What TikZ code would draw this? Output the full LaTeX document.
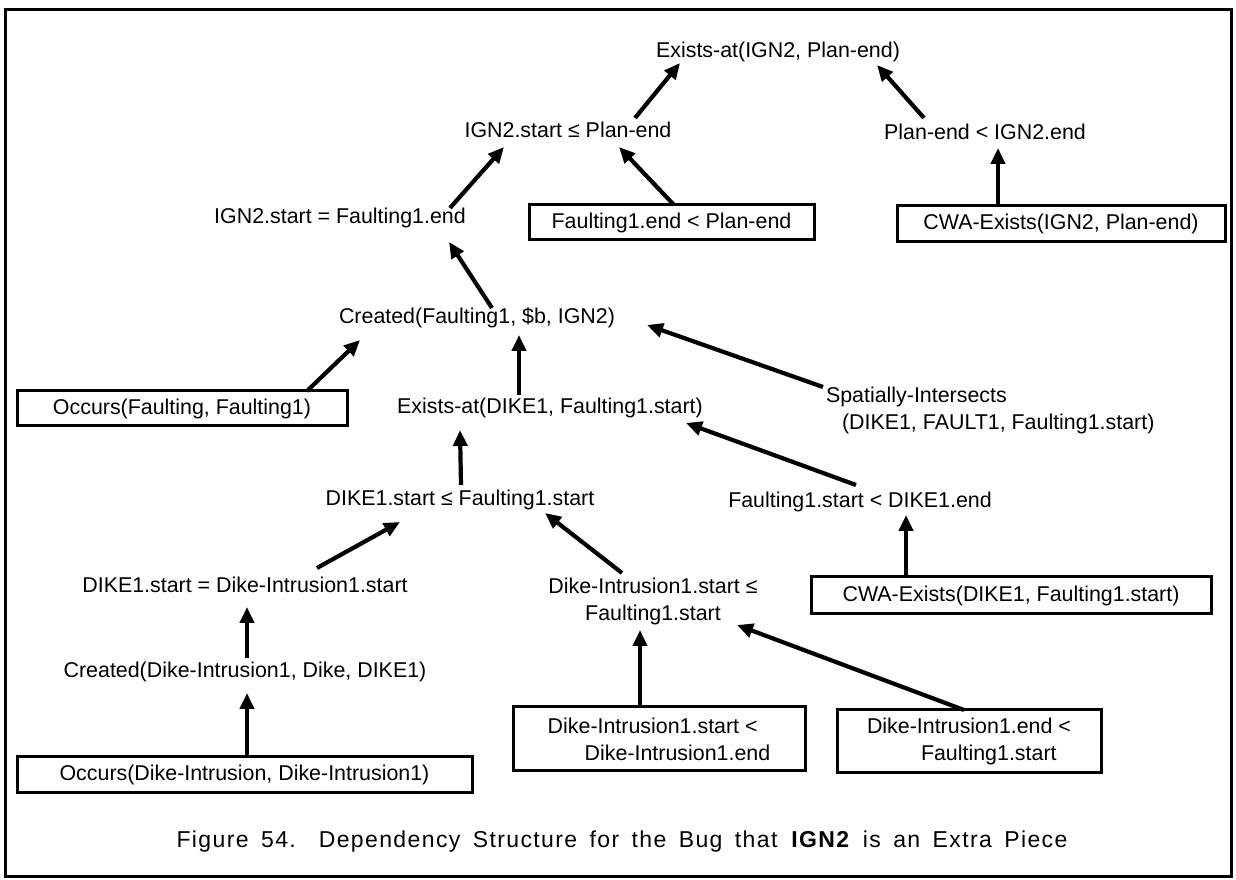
\documentclass[tikz,border=0pt]{standalone}
\usepackage{fontspec}
\setmainfont{Liberation Sans}
\newfontfamily\capfont[LetterSpace=6,WordSpace=1.6]{Liberation Sans}
\usetikzlibrary{arrows.meta}

\begin{document}
\begin{tikzpicture}[x=1pt,y=1pt,
  fact/.style={text=drawColor,inner sep=0pt,outer sep=0pt,font=\fontsize{21.4}{27}\selectfont},
  given/.style={fact,draw=drawColor,line width=3pt,minimum height=35pt},
  dep/.style={draw=drawColor,line width=4.2pt,-{Triangle[length=16pt,width=14pt]}}]
\definecolor{fillColor}{RGB}{255,255,255}
\definecolor{drawColor}{RGB}{0,0,0}
\path[use as bounding box,fill=fillColor] (0,0) rectangle (1236,880);
\path[draw=drawColor,line width=3pt] (5,3) rectangle (1231,870);

\node[fact] (exIGN) at (778.0,828.0) {Exists-at(IGN2, Plan-end)};
\node[fact] (ignLE) at (568.0,750.0) {IGN2.start ≤ Plan-end};
\node[fact] (planLT) at (985.0,748.0) {Plan-end < IGN2.end};
\node[fact] (ignEQ) at (340.0,662.0) {IGN2.start = Faulting1.end};
\node[given,minimum width=285pt] (faultEnd) at (671.5,657.5) {Faulting1.end < Plan-end};
\node[given,minimum width=328pt,minimum height=36pt] (cwaIGN) at (1061.0,656.0) {CWA-Exists(IGN2, Plan-end)};

\node[fact] (createdF) at (477.0,562.0) {Created(Faulting1, \$b, IGN2)};
\node[given,minimum width=330pt] (occursF) at (182.0,471.5) {Occurs(Faulting, Faulting1)};
\node[fact] (exDIKE) at (550.0,472.0) {Exists-at(DIKE1, Faulting1.start)};
\node[fact,align=left,anchor=north west] (spatial) at (826.0,493.0)
  {Spatially-Intersects\\\hspace*{16pt}(DIKE1, FAULT1, Faulting1.start)};

\node[fact] (dikeLE) at (460.0,380.0) {DIKE1.start ≤ Faulting1.start};
\node[fact] (faultLT) at (860.0,378.0) {Faulting1.start < DIKE1.end};
\node[fact] (dikeEQ) at (245.0,295.0) {DIKE1.start = Dike-Intrusion1.start};
\node[fact,align=center] (diLE) at (653.0,278.5) {Dike-Intrusion1.start ≤\\Faulting1.start};
\node[given,minimum width=400pt,minimum height=37pt] (cwaDIKE) at (1011.0,284.5) {CWA-Exists(DIKE1, Faulting1.start)};

\node[fact] (createdD) at (245.0,208.0) {Created(Dike-Intrusion1, Dike, DIKE1)};
\node[given,minimum width=455pt,minimum height=36pt] (occursD) at (244.5,105.0) {Occurs(Dike-Intrusion, Dike-Intrusion1)};
\node[given,align=left,minimum width=292pt,minimum height=64pt] (diStart) at (659.0,141.0)
  {Dike-Intrusion1.start <\\\hspace*{37pt}Dike-Intrusion1.end};
\node[given,align=left,minimum width=264pt,minimum height=63pt] (diEnd) at (969.0,138.5)
  {Dike-Intrusion1.end <\\\hspace*{54pt}Faulting1.start};

\node[text=drawColor,inner sep=0pt,font=\capfont\fontsize{23}{27}\selectfont] (caption) at (622.0,38.0)
  {Figure 54.\hspace{8pt} Dependency Structure for the Bug that \textbf{IGN2} is an Extra Piece};

\draw[dep] ([xshift=67pt,yshift=12pt]ignLE.center) -- ([xshift=-98pt,yshift=-11pt]exIGN.center);
\draw[dep] ([xshift=-61pt,yshift=14pt]planLT.center) -- ([xshift=99pt,yshift=-13pt]exIGN.center);
\draw[dep] ([xshift=110pt,yshift=10pt]ignEQ.center) -- ([xshift=-64pt,yshift=-17pt]ignLE.center);
\draw[dep] ([xshift=2.5pt]faultEnd.north) -- ([xshift=51pt,yshift=-17pt]ignLE.center);
\draw[dep] ([xshift=-63pt]cwaIGN.north) -- ([xshift=13pt,yshift=-16pt]planLT.center);
\draw[dep] ([xshift=15pt,yshift=10pt]createdF.center) -- ([xshift=109pt,yshift=-24pt]ignEQ.center);
\draw[dep] ([xshift=125pt]occursF.north) -- ([xshift=-117pt,yshift=-22pt]createdF.center);
\draw[dep] ([xshift=-31pt,yshift=13pt]exDIKE.center) -- ([xshift=42pt,yshift=-17pt]createdF.center);
\draw[dep] ([xshift=-3pt]spatial.north west) -- ([xshift=170pt,yshift=-7pt]createdF.center);
\draw[dep] ([xshift=1pt,yshift=15pt]dikeLE.center) -- ([xshift=-90pt,yshift=-22pt]exDIKE.center);
\draw[dep] ([xshift=-4pt,yshift=17pt]faultLT.center) -- ([xshift=136pt,yshift=-15pt]exDIKE.center);
\draw[dep] ([xshift=72pt,yshift=17pt]dikeEQ.center) -- ([xshift=-60pt,yshift=-22pt]dikeLE.center);
\draw[dep] ([xshift=-31pt,yshift=28.5pt]diLE.center) -- ([xshift=85pt,yshift=-13pt]dikeLE.center);
\draw[dep] ([xshift=-105pt]cwaDIKE.north) -- ([xshift=46pt,yshift=-13pt]faultLT.center);
\draw[dep] ([xshift=2pt,yshift=14pt]createdD.center) -- ([xshift=2pt,yshift=-22pt]dikeEQ.center);
\draw[dep] ([xshift=2.5pt]occursD.north) -- ([xshift=2pt,yshift=-21pt]createdD.center);
\draw[dep] ([xshift=-19pt]diStart.north) -- ([xshift=-13pt,yshift=-28.5pt]diLE.center);
\draw[dep] ([xshift=-5pt]diEnd.north) -- ([xshift=84pt,yshift=-23.5pt]diLE.center);
\end{tikzpicture}
\end{document}
